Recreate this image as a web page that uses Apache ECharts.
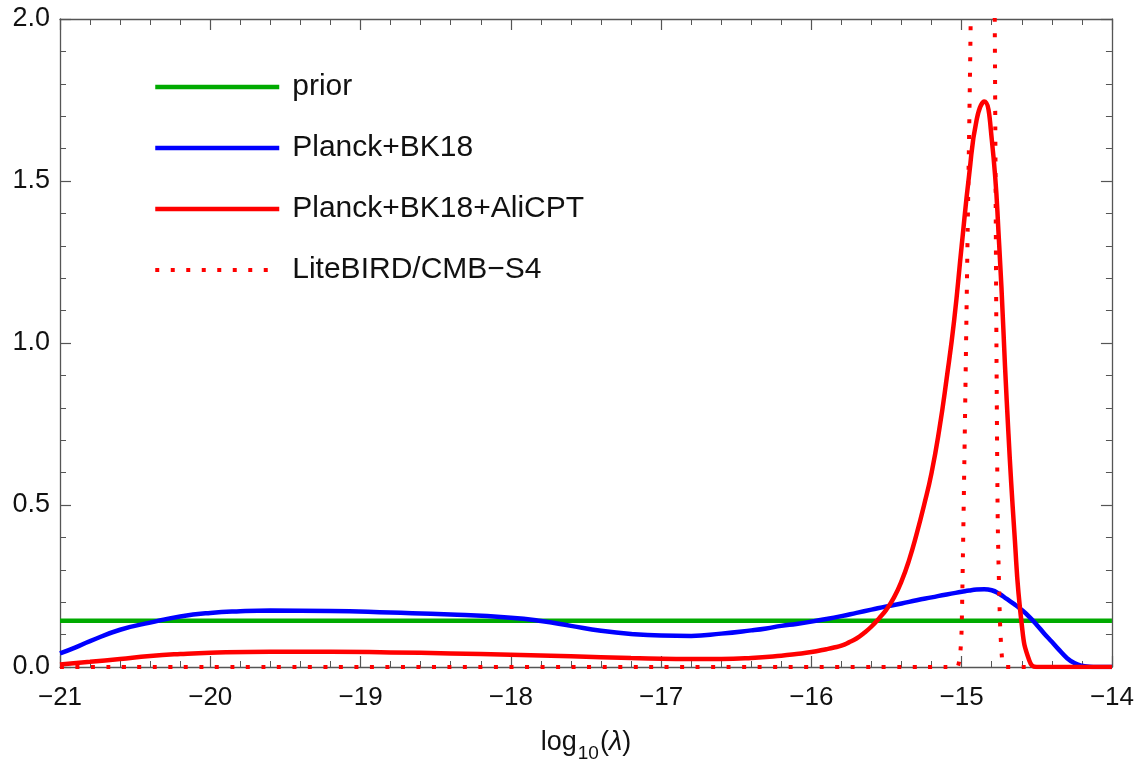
<!DOCTYPE html>
<html>
<head>
<meta charset="utf-8">
<script src="https://cdn.jsdelivr.net/npm/echarts@6/dist/echarts.min.js"></script>
<style>
html,body{margin:0;padding:0;background:#fff;}
#main{width:1137px;height:768px;}
</style>
</head>
<body>
<div id="main"></div>
<script>
// ---- data ----
const seriesNames = ['prior', 'Planck+BK18', 'Planck+BK18+AliCPT', 'LiteBIRD/CMB\u2212S4'];

const priorX = [-21, -14];
const priorY = [0.143, 0.143];

const planckX = [-21, -20.9, -20.8, -20.6, -20.4, -20.2, -20.0, -19.8, -19.6, -19.2, -18.8, -18.4, -18.0, -17.8, -17.6, -17.4, -17.2, -17.0, -16.8, -16.6, -16.4, -16.3, -16.2, -16.1, -16.0, -15.9, -15.8, -15.7, -15.6, -15.5, -15.4, -15.3, -15.2, -15.1, -15.0, -14.95, -14.9, -14.85, -14.8, -14.75, -14.7, -14.65, -14.6, -14.55, -14.5, -14.45, -14.4, -14.35, -14.3, -14.25, -14.2, -14.15, -14.1, -14.0];
const planckY = [0.042, 0.06, 0.08, 0.115, 0.137, 0.156, 0.167, 0.172, 0.174, 0.173, 0.168, 0.162, 0.152, 0.142, 0.127, 0.112, 0.102, 0.097, 0.096, 0.103, 0.113, 0.119, 0.127, 0.133, 0.140, 0.148, 0.157, 0.167, 0.177, 0.187, 0.196, 0.206, 0.215, 0.224, 0.232, 0.236, 0.239, 0.240, 0.237, 0.226, 0.210, 0.194, 0.176, 0.155, 0.130, 0.103, 0.078, 0.052, 0.028, 0.012, 0.004, 0.001, 0.0, 0.0];

const aliX = [-21, -20.8, -20.6, -20.4, -20.2, -20.0, -19.6, -19.2, -18.8, -18.4, -18.0, -17.6, -17.2, -16.9, -16.6, -16.4, -16.2, -16.1, -16.0, -15.9, -15.85, -15.8, -15.75, -15.7, -15.65, -15.6, -15.55, -15.5, -15.45, -15.4, -15.35, -15.3, -15.25, -15.2, -15.15, -15.1, -15.05, -15.0, -14.95, -14.9, -14.85, -14.8, -14.75, -14.7, -14.65, -14.6, -14.55, -14.5, -14.0];
const aliY = [0.008, 0.016, 0.025, 0.034, 0.040, 0.044, 0.047, 0.047, 0.045, 0.042, 0.038, 0.033, 0.028, 0.025, 0.025, 0.028, 0.035, 0.040, 0.046, 0.055, 0.060, 0.066, 0.076, 0.088, 0.105, 0.125, 0.150, 0.178, 0.215, 0.265, 0.33, 0.41, 0.50, 0.60, 0.73, 0.89, 1.07, 1.30, 1.52, 1.69, 1.745, 1.63, 1.30, 0.82, 0.42, 0.13, 0.02, 0.0, 0.0];

const liteX = [-21, -15.1, -15.03, -15.01, -15.0, -14.98, -14.96, -14.94, -14.92, -14.89, -14.86, -14.83, -14.8, -14.78, -14.77, -14.76, -14.745, -14.73, -14.71, -14.0];
const liteY = [0, 0, 0, 0.04, 0.12, 0.7, 1.35, 2.0, 3.3, 4.9, 5.5, 4.9, 3.3, 2.0, 1.1, 0.45, 0.14, 0.02, 0, 0];

const xTicks = {min: -21, max: -14, step: 1};
const yTicks = {min: 0, max: 2, step: 0.5};

// ---- chart ----
function pairs(xs, ys) { return xs.map((x, i) => [x, ys[i]]); }
const FONT = '"Liberation Sans", Arial, Helvetica, sans-serif';
const AX = '#555';

const chart = echarts.init(document.getElementById('main'), null, {renderer: 'canvas'});

function xAx(pos, labels) {
  return {
    type: 'value', position: pos, min: xTicks.min, max: xTicks.max, interval: xTicks.step,
    axisLine: {show: true, onZero: false, lineStyle: {color: AX, width: 1.3}},
    axisTick: {show: true, inside: true, length: 11, lineStyle: {color: AX, width: 1.2}},
    minorTick: {show: true, splitNumber: 5, length: 6, lineStyle: {color: AX, width: 1}},
    splitLine: {show: false},
    axisLabel: {show: labels, margin: 18, color: '#111', fontSize: 26, fontFamily: FONT,
      formatter: v => (v < 0 ? '\u2212' + Math.abs(v) : String(v))},
    name: labels ? '{a|log}{s|10}{a|(}{l|\u03bb}{a|)}' : '',
    nameLocation: 'middle', nameGap: 57,
    nameTextStyle: {rich: {
      a: {fontSize: 27, fontFamily: FONT, color: '#111', verticalAlign: 'bottom', lineHeight: 32},
      s: {fontSize: 19, fontFamily: FONT, color: '#111', verticalAlign: 'bottom', lineHeight: 24, padding: [0, 1, -7, 1]},
      l: {fontSize: 27, fontFamily: FONT, color: '#111', fontStyle: 'italic', verticalAlign: 'bottom', lineHeight: 32}
    }}
  };
}
function yAx(pos, labels) {
  return {
    type: 'value', position: pos, min: yTicks.min, max: yTicks.max, interval: yTicks.step,
    axisLine: {show: true, onZero: false, lineStyle: {color: AX, width: 1.3}},
    axisTick: {show: true, inside: true, length: 11, lineStyle: {color: AX, width: 1.2}},
    minorTick: {show: true, splitNumber: 5, length: 6, lineStyle: {color: AX, width: 1}},
    splitLine: {show: false},
    axisLabel: {show: labels, margin: 10, color: '#111', fontSize: 27, fontFamily: FONT,
      formatter: v => v.toFixed(1)}
  };
}

const option = {
  backgroundColor: '#fff',
  animation: false,
  grid: {left: 60, right: 25, top: 19, bottom: 101, containLabel: false},
  xAxis: [xAx('bottom', true), xAx('top', false)],
  yAxis: [yAx('left', true), yAx('right', false)],
  legend: {
    orient: 'vertical', left: 153, top: 72, padding: 0,
    itemWidth: 124, itemHeight: 30, itemGap: 31,
    itemStyle: {opacity: 0},
    lineStyle: {width: 'inherit', type: 'inherit'},
    textStyle: {fontSize: 30, fontFamily: FONT, color: '#111', padding: [0, 0, 0, 8], lineHeight: 30},
    data: seriesNames
  },
  series: [
    {name: seriesNames[0], type: 'line', data: pairs(priorX, priorY), symbol: 'none',
     lineStyle: {color: '#00aa00', width: 4.5}, itemStyle: {color: '#00aa00'}},
    {name: seriesNames[1], type: 'line', data: pairs(planckX, planckY), symbol: 'none', smooth: 0.5,
     lineStyle: {color: '#0000ff', width: 4.5}, itemStyle: {color: '#0000ff'}},
    {name: seriesNames[2], type: 'line', data: pairs(aliX, aliY), symbol: 'none', smooth: 0.5,
     lineStyle: {color: '#ff0000', width: 4.5}, itemStyle: {color: '#ff0000'}},
    {name: seriesNames[3], type: 'line', data: pairs(liteX, liteY), symbol: 'none', smooth: 0.2,
     lineStyle: {color: '#ff0000', width: 4, type: [4, 11.5]}, itemStyle: {color: '#ff0000'}}
  ]
};
chart.setOption(option);
</script>
</body>
</html>
